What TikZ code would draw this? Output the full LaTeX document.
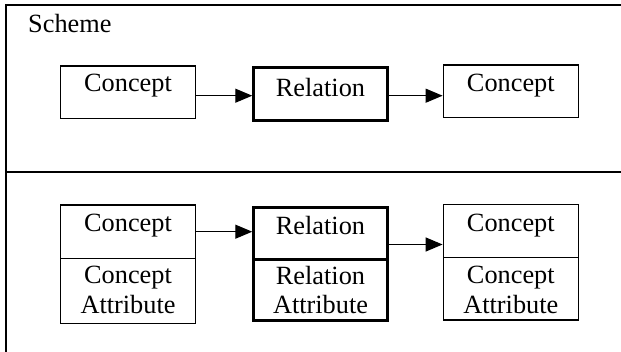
\documentclass[tikz,border=0pt]{standalone}
\usepackage{fontspec}
\setmainfont{Liberation Serif}
\usetikzlibrary{arrows.meta}
\begin{document}
\begin{tikzpicture}[x=1pt,y=-1pt,
  thinbox/.style={draw=black,line width=1.4pt,inner sep=0pt,rectangle},
  thickbox/.style={draw=black,line width=3pt,inner sep=0pt,rectangle},
  lbl/.style={font=\fontsize{26.3}{30}\selectfont,anchor=base,inner sep=0pt},
  arr/.style={line width=1.3pt,-{Triangle[length=17pt,width=14pt]}},
  frame/.style={line width=2pt}]
\useasboundingbox (0,0) rectangle (621,352);
% frame
\coordinate (ftl) at (6,5);
\coordinate (ftr) at (621,5);
\coordinate (fbl) at (6,352);
\coordinate (dl) at (6,172);
\coordinate (dr) at (621,172);
\draw[frame] (ftr) -- (ftl) -- (fbl);
\draw[frame] (dl) -- (dr);
\node[lbl,anchor=base west] (title) at (28,33) {Scheme};
% top row
\node[thinbox,minimum width=134.6pt,minimum height=52.3pt] (c1) at (128,92.2) {};
\node[thickbox,minimum width=133.5pt,minimum height=52.7pt] (r1) at (320.5,94.3) {};
\node[thinbox,minimum width=135pt,minimum height=52.7pt] (c2) at (510.8,91.3) {};
\node[lbl] (c1t) at (128,91.7) {Concept};
\node[lbl] (r1t) at (320.5,96.7) {Relation};
\node[lbl] (c2t) at (510.8,91.2) {Concept};
\draw[arr] ([yshift=-3.5pt]c1.east) -- ([yshift=-3.5pt]c1.east -| r1.west);
\draw[arr] ([yshift=-1.4pt]r1.east) -- ([yshift=-1.4pt]r1.east -| c2.west);
% bottom row
\node[thinbox,minimum width=134.6pt,minimum height=53.3pt] (c3a) at (128,231.65) {};
\node[thinbox,minimum width=134.6pt,minimum height=65pt] (c3b) at (128,290.8) {};
\node[thickbox,minimum width=133.5pt,minimum height=52pt] (r2a) at (320.5,234) {};
\node[thickbox,minimum width=133.5pt,minimum height=61pt] (r2b) at (320.5,290.5) {};
\node[thinbox,minimum width=135pt,minimum height=53pt] (c4a) at (510.8,230.8) {};
\node[thinbox,minimum width=135pt,minimum height=62.7pt] (c4b) at (510.8,288.65) {};
\node[lbl] (c3t) at (128,232) {Concept};
\node[lbl] (c3u) at (128,283.3) {Concept};
\node[lbl] (c3v) at (128,314) {Attribute};
\node[lbl] (r2t) at (320.5,235) {Relation};
\node[lbl] (r2u) at (320.5,285) {Relation};
\node[lbl] (r2v) at (320.5,314) {Attribute};
\node[lbl] (c4t) at (510.8,231.7) {Concept};
\node[lbl] (c4u) at (510.8,283.3) {Concept};
\node[lbl] (c4v) at (510.8,313.3) {Attribute};
\draw[arr] ([yshift=-27.4pt]c3a.north east) -- ([yshift=-27.4pt]c3a.north east -| r2a.west);
\draw[arr] ([yshift=-38pt]r2a.north east) -- ([yshift=-38pt]r2a.north east -| c4a.west);
\end{tikzpicture}
\end{document}
